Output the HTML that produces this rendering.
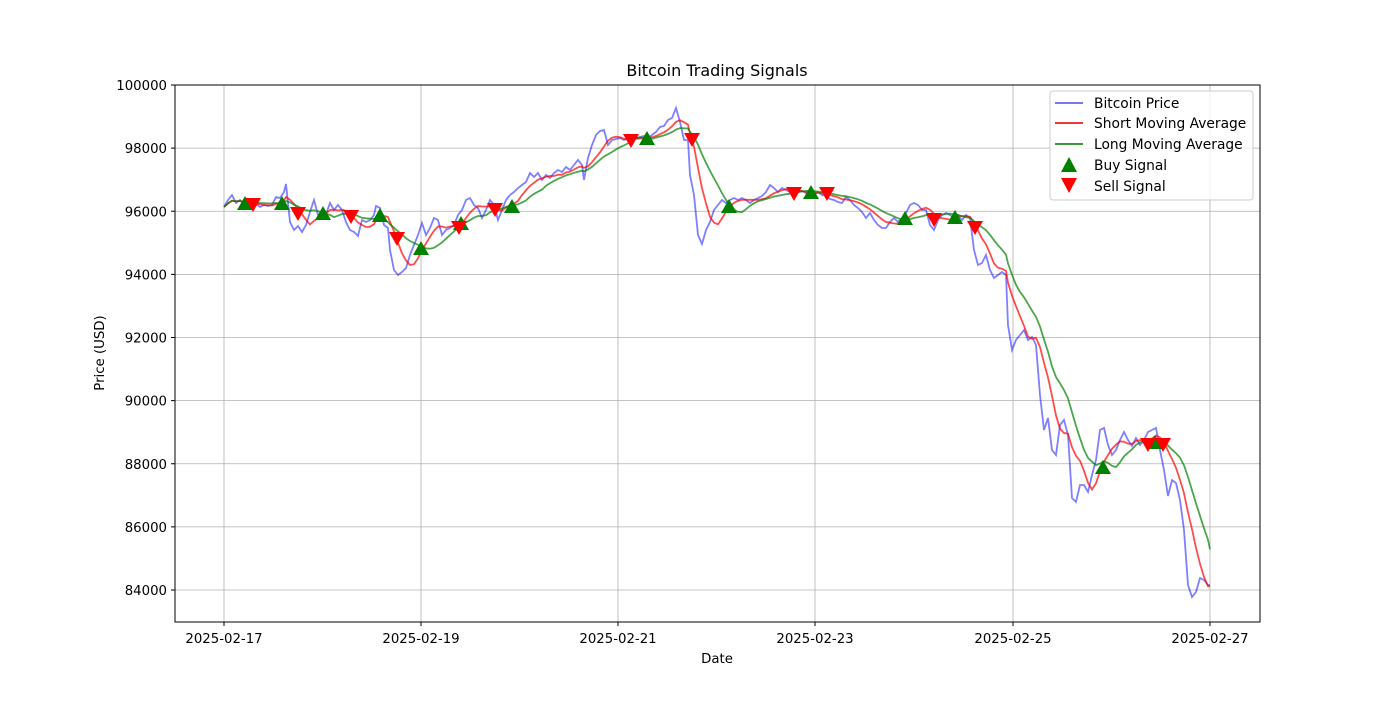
<!DOCTYPE html>
<html><head><meta charset="utf-8"><style>
body{margin:0;background:#fff;font-family:"DejaVu Sans","Liberation Sans",sans-serif;}
svg text{font-family:"DejaVu Sans","Liberation Sans",sans-serif;}
</style></head><body>
<svg id="s" width="1400" height="700" xmlns="http://www.w3.org/2000/svg">
<rect width="1400" height="700" fill="#fff"/>
<g id="grid" stroke="#b0b0b0" stroke-width="0.8"></g>
<g id="lines"></g>
<g id="marks"></g>
<rect x="175" y="85" width="1085" height="537" fill="none" stroke="#000" stroke-width="1"/>
<g id="ticks" font-size="13.3" fill="#000"></g>
<text x="717" y="76" font-size="16" text-anchor="middle">Bitcoin Trading Signals</text>
<text x="717" y="663" font-size="13.3" text-anchor="middle">Date</text>
<text transform="translate(104,353) rotate(-90)" font-size="13.3" text-anchor="middle">Price (USD)</text>
<g>
<rect x="1050" y="91" width="203" height="109" rx="3" fill="#fff" fill-opacity="0.8" stroke="#ccc"/>
<line x1="1055" y1="103" x2="1083" y2="103" stroke="#7777ee" stroke-width="2"/>
<line x1="1055" y1="123" x2="1083" y2="123" stroke="#e83a3a" stroke-width="2"/>
<line x1="1055" y1="144" x2="1083" y2="144" stroke="#3a9a3a" stroke-width="2"/>
<polygon points="1069,157 1077,172 1061,172" fill="green"/>
<polygon points="1061,178 1077,178 1069,193" fill="red"/>
<g font-size="13.8"><text x="1094" y="108">Bitcoin Price</text><text x="1094" y="128">Short Moving Average</text><text x="1094" y="149">Long Moving Average</text><text x="1094" y="170">Buy Signal</text><text x="1094" y="191">Sell Signal</text></g>
</g>
</svg>
<script>
var NS="http://www.w3.org/2000/svg";
function el(p,t,a,txt){var e=document.createElementNS(NS,t);for(var k in a)e.setAttribute(k,a[k]);if(txt)e.textContent=txt;document.getElementById(p).appendChild(e);return e;}
var xs=[["2025-02-17",224],["2025-02-19",421],["2025-02-21",618],["2025-02-23",815],["2025-02-25",1013],["2025-02-27",1210]];
xs.forEach(function(d){el("grid","line",{x1:d[1],y1:85,x2:d[1],y2:622});el("ticks","line",{x1:d[1],y1:622,x2:d[1],y2:626,stroke:"#000"});el("ticks","text",{x:d[1],y:643,"text-anchor":"middle"},d[0]);});
for(var i=0;i<=8;i++){var y=85+i*63.125,v=100000-i*2000;el("grid","line",{x1:175,y1:y,x2:1260,y2:y});el("ticks","line",{x1:171,y1:y,x2:175,y2:y,stroke:"#000"});el("ticks","text",{x:167,y:y+5,"text-anchor":"end"},String(v));}
var P=[[224,207],[228,200],[232,195],[236,203],[240,200],[244,205],[248,203],[252,206],[256,204],[260,207],[264,205],[268,206],[272,205],[276,197],[280,198],[284,192],[286,184],[290,222],[294,230],[298,226],[302,232],[306,225],[310,212],[314,200],[318,215],[322,216],[326,214],[330,203],[334,210],[338,205],[342,210],[346,222],[350,230],[354,232],[358,236],[362,220],[366,222],[370,220],[374,215],[376,206],[380,208],[384,225],[388,228],[390,250],[394,270],[398,275],[402,272],[406,268],[410,255],[414,245],[418,235],[422,223],[426,235],[430,228],[434,218],[438,220],[442,235],[446,230],[450,228],[454,225],[458,215],[462,210],[466,200],[470,198],[474,205],[478,208],[482,218],[486,210],[490,200],[494,205],[498,220],[502,210],[506,200],[510,195],[514,192],[518,188],[522,185],[526,182],[530,173],[534,177],[538,173],[542,180],[546,175],[550,178],[554,173],[558,170],[562,172],[566,167],[570,170],[574,165],[578,160],[582,165],[584,180],[588,158],[592,145],[596,135],[600,131],[604,130],[608,145],[612,140],[616,139],[620,138],[624,140],[628,138],[632,140],[636,138],[640,137],[644,136],[648,138],[652,135],[656,132],[660,127],[664,126],[668,120],[672,118],[676,108],[680,122],[684,140],[688,140],[690,175],[694,195],[698,235],[702,244],[706,230],[710,222],[714,210],[718,205],[722,200],[726,203],[730,200],[734,198],[738,200],[742,198],[746,200],[750,203],[754,200],[758,198],[762,196],[766,192],[770,185],[774,188],[778,192],[782,188],[786,190],[790,192],[794,193],[798,192],[802,191],[806,193],[810,193],[814,195],[818,192],[822,195],[826,196],[830,199],[834,200],[838,202],[842,203],[846,197],[850,200],[854,205],[858,208],[862,212],[866,218],[870,213],[874,220],[878,225],[882,228],[886,228],[890,222],[894,218],[898,222],[902,218],[906,213],[910,205],[914,203],[918,205],[922,210],[926,210],[930,225],[934,230],[938,220],[942,215],[946,213],[950,215],[954,218],[958,215],[962,220],[966,215],[970,218],[974,250],[978,265],[982,263],[986,255],[990,270],[994,278],[998,275],[1002,272],[1006,275],[1008,325],[1012,350],[1016,340],[1020,335],[1024,330],[1028,340],[1032,337],[1036,345],[1040,395],[1044,430],[1048,418],[1052,450],[1056,455],[1060,425],[1064,420],[1068,435],[1072,498],[1076,502],[1080,485],[1084,485],[1088,492],[1092,475],[1096,460],[1100,430],[1104,428],[1108,445],[1112,455],[1116,450],[1120,440],[1124,432],[1128,440],[1132,446],[1136,438],[1140,445],[1144,440],[1148,432],[1152,430],[1156,428],[1160,450],[1164,470],[1168,496],[1172,480],[1176,483],[1180,500],[1184,530],[1188,585],[1192,597],[1196,592],[1200,578],[1204,580],[1208,585],[1210,585]];
function ma(w){return P.map(function(p,i){var s=0,n=0;for(var j=Math.max(0,i-w+1);j<=i;j++){s+=P[j][1];n++;}return [p[0],s/n];});}
function pts(a){return a.map(function(p){return p[0]+","+p[1].toFixed(1);}).join(" ");}
el("lines","polyline",{points:pts(P),fill:"none",stroke:"blue","stroke-opacity":"0.5","stroke-width":"1.8"});
el("lines","polyline",{points:pts(ma(6)),fill:"none",stroke:"red","stroke-opacity":"0.7","stroke-width":"1.8"});
el("lines","polyline",{points:pts(ma(12)),fill:"none",stroke:"green","stroke-opacity":"0.7","stroke-width":"1.8"});
var buy=[[245,204],[282,204],[323,214],[380,216],[421,249],[461,224],[512,207],[647,139],[729,207],[811,193],[905,219],[955,218],[1103,468],[1155,443]];
var sell=[[253,204],[298,213],[351,216],[397,238],[459,227],[495,209],[631,140],[692,139],[794,193],[827,193],[934,219],[975,227],[1148,444],[1163,444]];
buy.forEach(function(p){el("marks","polygon",{points:(p[0])+","+(p[1]-8)+" "+(p[0]+8)+","+(p[1]+6)+" "+(p[0]-8)+","+(p[1]+6),fill:"green"});});
sell.forEach(function(p){el("marks","polygon",{points:(p[0]-8)+","+(p[1]-6)+" "+(p[0]+8)+","+(p[1]-6)+" "+p[0]+","+(p[1]+8),fill:"red"});});
</script>
</body></html>
